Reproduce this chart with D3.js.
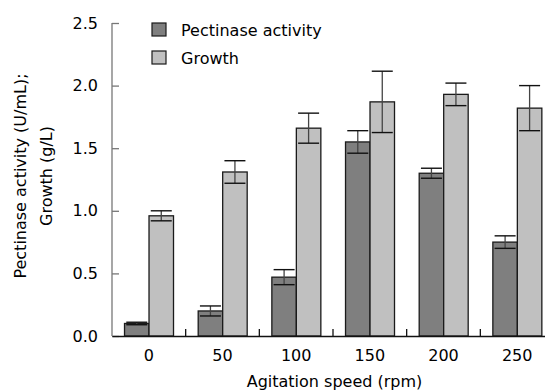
<!DOCTYPE html>
<html><head><meta charset="utf-8">
<script src="https://cdn.jsdelivr.net/npm/d3@7/dist/d3.min.js"></script>
<style>
html,body{margin:0;padding:0;background:#fff;overflow:hidden}
text{font-family:"DejaVu Sans",sans-serif;fill:#000}
</style></head>
<body>
<svg id="c" width="545" height="392"></svg>
<script>
const categories = ["0","50","100","150","200","250"];
const seriesNames = ["Pectinase activity","Growth"];
const pectinase = [0.10,0.20,0.47,1.55,1.30,0.75];
const pectinaseErr = [0.01,0.04,0.06,0.09,0.04,0.05];
const growth = [0.96,1.31,1.66,1.87,1.93,1.82];
const growthErr = [0.04,0.09,0.12,0.245,0.09,0.18];
const yTicks = [0,0.5,1.0,1.5,2.0,2.5];
const colors = ["#7f7f7f","#c0c0c0"];

const svg = d3.select("#c");
const L = 112, R = 554, T = 23, B = 336;
const x = d3.scaleBand().domain(categories).range([L, R]).padding(0);
const xs = d3.scaleBand().domain(seriesNames)
  .range([x.bandwidth()*0.17, x.bandwidth()*0.835]).padding(0);
const y = d3.scaleLinear().domain([0,2.5]).range([B, T]);

const rows = categories.map((c,i)=>({c, vals:[
  {s:seriesNames[0], v:pectinase[i], e:pectinaseErr[i]},
  {s:seriesNames[1], v:growth[i], e:growthErr[i]}]}));

const g = svg.selectAll("g.grp").data(rows).enter().append("g")
  .attr("transform", d=>`translate(${x(d.c)},0)`);
g.selectAll("rect").data(d=>d.vals).enter().append("rect")
  .attr("x", d=>xs(d.s)).attr("width", xs.bandwidth())
  .attr("y", d=>y(d.v)).attr("height", d=>B - y(d.v))
  .attr("fill", (d,i)=>colors[i]).attr("stroke","#1a1a1a").attr("stroke-width",1.3);

// error bars
const eb = g.selectAll("g.eb").data(d=>d.vals).enter().append("g");
eb.append("line")
  .attr("x1", d=>xs(d.s)+xs.bandwidth()/2).attr("x2", d=>xs(d.s)+xs.bandwidth()/2)
  .attr("y1", d=>y(d.v+d.e)).attr("y2", d=>y(d.v-d.e))
  .attr("stroke","#444").attr("stroke-width",1.3);
[1,-1].forEach(sg=>{
  eb.append("line")
    .attr("x1", d=>xs(d.s)+xs.bandwidth()/2-10.5).attr("x2", d=>xs(d.s)+xs.bandwidth()/2+10.5)
    .attr("y1", d=>y(d.v+sg*d.e)).attr("y2", d=>y(d.v+sg*d.e))
    .attr("stroke","#111").attr("stroke-width",1.4);
});

// y axis
const ya = svg.append("g").attr("transform",`translate(${L},0)`)
  .call(d3.axisLeft(y).tickValues(yTicks).tickFormat(d3.format(".1f")).tickSize(-7).tickPadding(14));
ya.select(".domain").attr("stroke","#777").attr("stroke-width",1.3).attr("d",`M0,${T}V${B}`);
ya.selectAll(".tick line").attr("stroke","#777").attr("stroke-width",1.3);
ya.selectAll(".tick text").style("font-size","16px").style("font-family","DejaVu Sans").attr("fill","#000");

// x axis
const xa = svg.append("g").attr("transform",`translate(0,${B})`)
  .call(d3.axisBottom(x).tickSize(0).tickPadding(14));
xa.select(".domain").attr("stroke","#111").attr("stroke-width",1.3);
xa.selectAll(".tick text").style("font-size","16px").style("font-family","DejaVu Sans").attr("fill","#000");
svg.append("g").selectAll("line").data(categories.slice(0,-1)).enter().append("line")
  .attr("x1", d=>x(d)+x.bandwidth()).attr("x2", d=>x(d)+x.bandwidth())
  .attr("y1", B).attr("y2", B-7).attr("stroke","#111").attr("stroke-width",1.3);

// axis titles
svg.append("text").attr("x", 334.5).attr("y", 387).attr("text-anchor","middle")
  .style("font-size","16px").text("Agitation speed (rpm)");
const yl = svg.append("g").attr("transform",`translate(0,176) rotate(-90)`);
yl.append("text").attr("x",0).attr("y",26).attr("text-anchor","middle").style("font-size","16px")
  .text("Pectinase activity (U/mL);");
yl.append("text").attr("x",0).attr("y",51.5).attr("text-anchor","middle").style("font-size","16px")
  .text("Growth (g/L)");

// legend
const lg = svg.append("g").selectAll("g").data(seriesNames).enter().append("g")
  .attr("transform",(d,i)=>`translate(152,${23+i*28})`);
lg.append("rect").attr("width",14).attr("height",13).attr("fill",(d,i)=>colors[i])
  .attr("stroke","#1a1a1a").attr("stroke-width",1.2);
lg.append("text").attr("x",29).attr("y",12.5).style("font-size","16px").text(d=>d);
</script>
</body></html>
